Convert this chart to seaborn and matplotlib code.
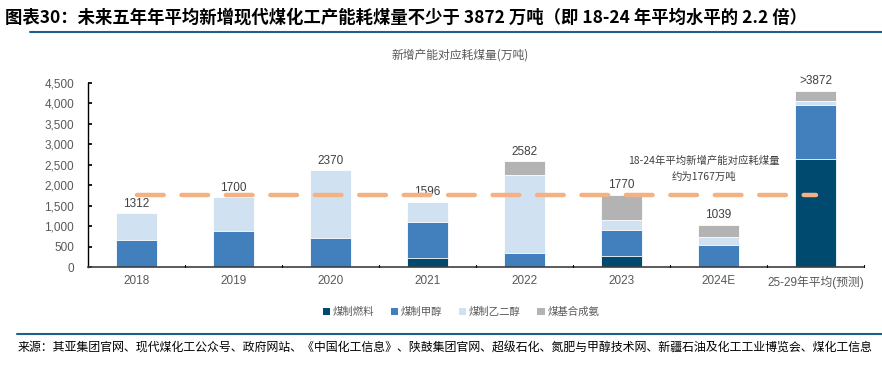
import numpy as np
import pandas as pd
import matplotlib
matplotlib.use("Agg")
import matplotlib.pyplot as plt
import seaborn as sns
from matplotlib.patches import Patch

sns.set_theme(style="white")
plt.rcParams['font.family'] = ['Noto Sans CJK SC', 'DejaVu Sans']

categories = ["2018", "2019", "2020", "2021", "2022", "2023", "2024E", "25-29年平均(预测)"]
fuel = [0, 0, 0, 220, 0, 280, 0, 2630]
methanol = [660, 880, 700, 870, 350, 630, 530, 1320]
glycol = [652, 820, 1670, 506, 1890, 230, 200, 115]
ammonia = [0, 0, 0, 0, 342, 630, 309, 245]
labels = ["1312", "1700", "2370", "1596", "2582", "1770", "1039", ">3872"]
avg_value = 1767
series_names = ["煤制燃料", "煤制甲醇", "煤制乙二醇", "煤基合成氨"]
colors = ["#004a70", "#417fbd", "#d0e1f2", "#b3b3b3"]

df = pd.DataFrame({"cat": categories, "fuel": fuel, "methanol": methanol,
                   "glycol": glycol, "ammonia": ammonia})
df["c1"] = df["fuel"]
df["c2"] = df["c1"] + df["methanol"]
df["c3"] = df["c2"] + df["glycol"]
df["c4"] = df["c3"] + df["ammonia"]

fig = plt.figure(figsize=(8.82, 3.68), dpi=100)
ax = fig.add_axes([88/882, 1 - 267/368, 776/882, (267 - 83)/368])

for col, color in zip(["c4", "c3", "c2", "c1"], colors[::-1]):
    sns.barplot(data=df, x="cat", y=col, color=color, width=0.42, ax=ax,
                saturation=1, edgecolor="white", linewidth=0.6, zorder=2)

for i, (lab, tot) in enumerate(zip(labels, df["c4"])):
    ax.text(i, tot + 80, lab, ha="center", va="bottom", fontsize=8.5,
            color="#404040", family=["Liberation Sans", "DejaVu Sans"])

ax.plot([0, len(categories) - 1], [avg_value, avg_value], color="#f4b183",
        lw=3.2, dashes=(6.0, 4.0), solid_capstyle="round", dash_capstyle="round",
        zorder=3)
ax.text(5.85, 2090, "18-24年平均新增产能对应耗煤量\n约为1767万吨", ha="center",
        va="bottom", fontsize=7.5, color="#404040", linespacing=1.7)

ax.set_xlim(-0.5, len(categories) - 0.5)
ax.set_ylim(0, 4500)
ax.set_yticks(np.arange(0, 4501, 500))
ax.set_yticklabels([f"{v:,}" for v in range(0, 4501, 500)],
                   family=["Liberation Sans", "DejaVu Sans"], fontsize=8.5, color="#595959")
ax.set_xticks(range(len(categories)))
ax.set_xticklabels(categories, fontsize=8.5, color="#595959",
                   family=["Liberation Sans", "Noto Sans CJK SC"])
ax.tick_params(axis="x", length=0, pad=6)
ax.tick_params(axis="y", length=3, direction="in", color="black", pad=10, left=True)
for xb in np.arange(0.5, len(categories) - 0.5 + 1, 1.0):
    ax.plot([xb, xb], [0, 60], color="black", lw=0.8, zorder=4, clip_on=False)
ax.set_xlabel("")
ax.set_ylabel("")
for s in ["top", "right"]:
    ax.spines[s].set_visible(False)
ax.spines["left"].set_color("black")
ax.spines["left"].set_linewidth(1.0)
ax.spines["bottom"].set_color("#404040")
ax.spines["bottom"].set_linewidth(1.2)

handles = [Patch(facecolor=c, edgecolor="none") for c in colors]
fig.legend(handles, series_names, loc="center", bbox_to_anchor=(461/882, 1 - 312/368),
           ncol=4, frameon=False, fontsize=7.5, handlelength=0.7, handleheight=0.7,
           handletextpad=0.25, columnspacing=1.6, labelcolor="#595959")

fig.text(5/882, 1 - 18/368,
         "图表30：未来五年年平均新增现代煤化工产能耗煤量不少于 3872 万吨（即 18-24 年平均水平的 2.2 倍）",
         fontsize=12.5, fontweight="bold", fontstyle="italic", va="center", ha="left",
         color="black")
fig.add_artist(plt.Line2D([30/882, 1], [1 - 32/368, 1 - 32/368], color="#1f5f8b", lw=1.5))
fig.text(460/882, 1 - 55/368, "新增产能对应耗煤量(万吨)", fontsize=8.5, ha="center",
         va="center", color="#595959")
fig.add_artist(plt.Line2D([17/882, 1], [1 - 334/368, 1 - 334/368], color="#1f5f8b", lw=1.5))
fig.text(18/882, 1 - 348/368,
         "来源：其亚集团官网、现代煤化工公众号、政府网站、《中国化工信息》、陕鼓集团官网、超级石化、氮肥与甲醇技术网、新疆石油及化工工业博览会、煤化工信息",
         fontsize=8.6, ha="left", va="center", color="black")

fig.savefig("out.png", dpi=100)
